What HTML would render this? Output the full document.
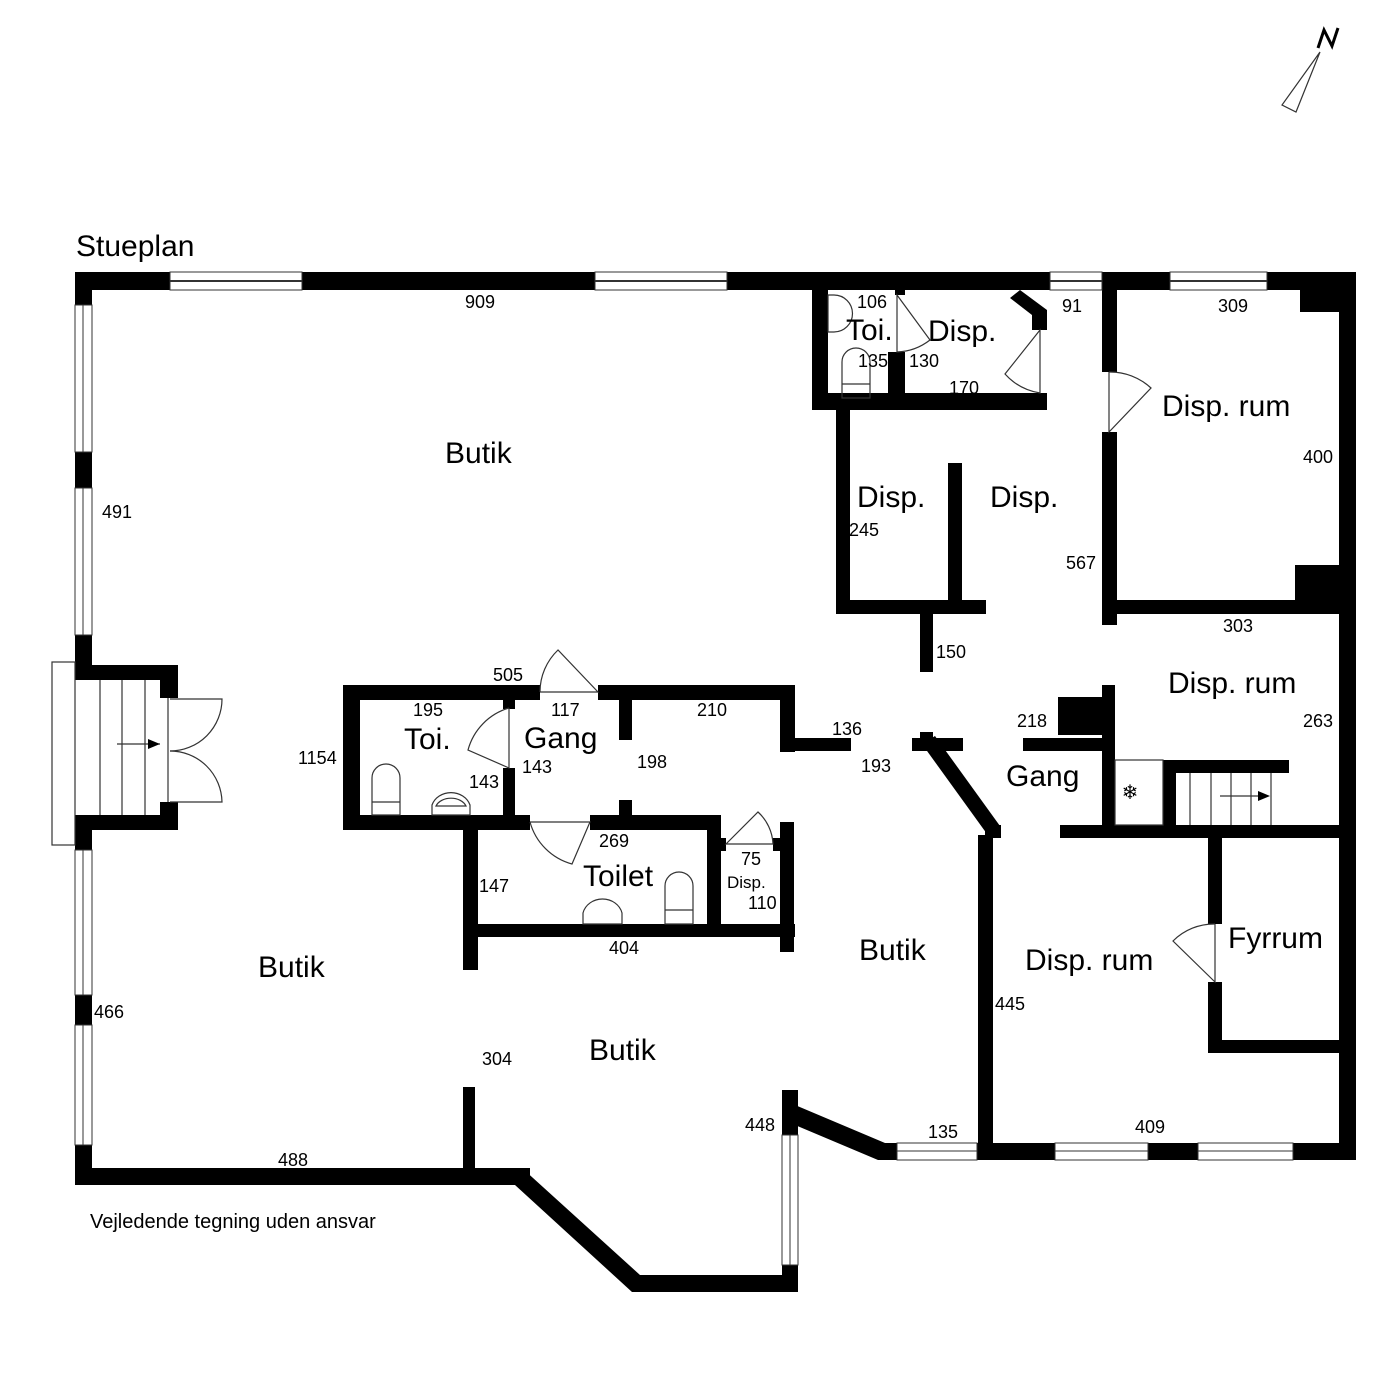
<!DOCTYPE html>
<html><head><meta charset="utf-8"><style>
html,body{margin:0;padding:0;background:#fff}
svg{display:block}
text{font-family:"Liberation Sans",Arial,sans-serif;fill:#000}
.l{font-size:30px}.s{font-size:18px}
</style></head><body>
<svg width="1400" height="1400" viewBox="0 0 1400 1400" xmlns="http://www.w3.org/2000/svg">
<g fill="#000">
<rect x="75" y="272" width="1281" height="18"/>
<rect x="75" y="272" width="17" height="33"/>
<rect x="1339" y="272" width="17" height="888"/>
<rect x="75" y="452" width="17" height="36"/>
<rect x="75" y="635" width="17" height="45"/>
<rect x="75" y="665" width="103" height="15"/>
<rect x="160" y="665" width="18" height="33"/>
<rect x="75" y="815" width="103" height="15"/>
<rect x="160" y="802" width="18" height="28"/>
<rect x="75" y="815" width="17" height="35"/>
<rect x="75" y="995" width="17" height="30"/>
<rect x="75" y="1145" width="17" height="40"/>
<rect x="75" y="1168" width="455" height="17"/>
<polygon points="522,1168 640,1275 798,1275 798,1292 632,1292 515,1185"/>
<rect x="782" y="1265" width="16" height="27"/>
<rect x="782" y="1090" width="16" height="45"/>
<polygon points="795,1105 885,1143 897,1143 897,1160 878,1160 795,1125"/>
<rect x="977" y="1143" width="78" height="17"/>
<rect x="1148" y="1143" width="50" height="17"/>
<rect x="1293" y="1143" width="63" height="17"/>
<rect x="812" y="290" width="16" height="120"/>
<rect x="812" y="393" width="235" height="17"/>
<rect x="888" y="352" width="17" height="41"/>
<rect x="895" y="290" width="10" height="5"/>
<polygon points="1020,290 1047,310 1047,330 1032,330 1032,315 1010,298"/>
<rect x="1032" y="393" width="15" height="17"/>
<rect x="1102" y="290" width="15" height="82"/>
<rect x="1102" y="432" width="15" height="193"/>
<rect x="836" y="410" width="14" height="202"/>
<rect x="836" y="600" width="150" height="14"/>
<rect x="948" y="463" width="14" height="149"/>
<rect x="920" y="612" width="13" height="60"/>
<rect x="1117" y="600" width="222" height="14"/>
<rect x="1300" y="290" width="39" height="22"/>
<rect x="1295" y="565" width="44" height="49"/>
<rect x="1102" y="685" width="13" height="150"/>
<rect x="1058" y="697" width="44" height="38"/>
<rect x="1023" y="738" width="79" height="13"/>
<rect x="1163" y="760" width="13" height="70"/>
<rect x="1163" y="760" width="126" height="13"/>
<rect x="1060" y="825" width="279" height="13"/>
<rect x="1208" y="838" width="14" height="86"/>
<rect x="1208" y="982" width="14" height="71"/>
<rect x="1208" y="1040" width="131" height="13"/>
<rect x="978" y="835" width="15" height="325"/>
<polygon points="922,744 935,736 1000,826 987,834"/>
<rect x="985" y="825" width="16" height="13"/>
<rect x="912" y="738" width="51" height="13"/>
<rect x="920" y="732" width="13" height="8"/>
<rect x="598" y="685" width="197" height="15"/>
<rect x="780" y="685" width="15" height="67"/>
<rect x="780" y="738" width="71" height="13"/>
<rect x="343" y="685" width="197" height="15"/>
<rect x="343" y="685" width="17" height="145"/>
<rect x="343" y="815" width="187" height="15"/>
<rect x="503" y="700" width="12" height="9"/>
<rect x="503" y="768" width="12" height="50"/>
<rect x="619" y="700" width="13" height="40"/>
<rect x="619" y="800" width="13" height="15"/>
<rect x="590" y="815" width="131" height="15"/>
<rect x="463" y="815" width="15" height="155"/>
<rect x="463" y="924" width="332" height="13"/>
<rect x="707" y="815" width="14" height="115"/>
<rect x="717" y="838" width="9" height="13"/>
<rect x="773" y="838" width="9" height="13"/>
<rect x="780" y="822" width="14" height="130"/>
<rect x="463" y="1087" width="12" height="85"/>
</g>
<g fill="#fff" stroke="#333" stroke-width="1">
<rect x="170" y="272" width="132" height="18"/><line x1="170" y1="281" x2="302" y2="281" stroke-width="2"/>
<rect x="595" y="272" width="132" height="18"/><line x1="595" y1="281" x2="727" y2="281" stroke-width="2"/>
<rect x="1050" y="272" width="52" height="18"/><line x1="1050" y1="281" x2="1102" y2="281" stroke-width="2"/>
<rect x="1170" y="272" width="97" height="18"/><line x1="1170" y1="281" x2="1267" y2="281" stroke-width="2"/>
<rect x="75" y="305" width="17" height="147"/><line x1="83" y1="305" x2="83" y2="452"/>
<rect x="75" y="488" width="17" height="147"/><line x1="83" y1="488" x2="83" y2="635"/>
<rect x="75" y="850" width="17" height="145"/><line x1="83" y1="850" x2="83" y2="995"/>
<rect x="75" y="1025" width="17" height="120"/><line x1="83" y1="1025" x2="83" y2="1145"/>
<rect x="782" y="1135" width="16" height="130"/><line x1="790" y1="1135" x2="790" y2="1265"/>
<rect x="897" y="1143" width="80" height="17"/><line x1="897" y1="1151" x2="977" y2="1151"/>
<rect x="1055" y="1143" width="93" height="17"/><line x1="1055" y1="1151" x2="1148" y2="1151"/>
<rect x="1198" y="1143" width="95" height="17"/><line x1="1198" y1="1151" x2="1293" y2="1151"/>
</g>
<g fill="none" stroke="#333" stroke-width="1.2">
<rect x="52" y="662" width="23" height="183"/>
<line x1="100" y1="680" x2="100" y2="815"/><line x1="122" y1="680" x2="122" y2="815"/><line x1="145" y1="680" x2="145" y2="815"/>
<line x1="168" y1="698" x2="168" y2="802"/>
<path d="M170 699 H222 A52 52 0 0 1 170 751"/>
<path d="M170 802 H222 A52 52 0 0 0 170 751"/>
<line x1="117" y1="744" x2="160" y2="744"/>
<path d="M540 692 H598 L558 650 A58 58 0 0 0 540 692"/>
<path d="M509 708 V768 L468 750 A60 60 0 0 1 509 708"/>
<path d="M530 822 H590 V822 L572 864 A60 60 0 0 1 530 822"/>
<path d="M726 844 H773 A46 46 0 0 0 758 812 Z"/>
<path d="M897 295 V352 A57 57 0 0 0 930 340 Z"/>
<path d="M1040 330 V393 A60 60 0 0 1 1005 374 Z"/>
<path d="M1109 372 V432 L1151 388 A60 60 0 0 0 1109 372"/>
<path d="M1215 924 V982 L1173 941 A58 58 0 0 1 1215 924"/>
<rect x="1115" y="760" width="48" height="65"/>
<line x1="1190" y1="773" x2="1190" y2="825"/><line x1="1211" y1="773" x2="1211" y2="825"/><line x1="1231" y1="773" x2="1231" y2="825"/><line x1="1251" y1="773" x2="1251" y2="825"/><line x1="1271" y1="773" x2="1271" y2="825"/>
<line x1="1220" y1="796" x2="1262" y2="796"/>
<path d="M372 815 V778 A14 14 0 0 1 400 778 V815 Z"/><line x1="372" y1="802" x2="400" y2="802"/>
<path d="M432 815 V805 A20 18 0 0 1 470 805 V815 Z"/><path d="M436 806 A16 12 0 0 1 466 806 V806 Z"/>
<path d="M665 924 V886 A14 14 0 0 1 693 886 V924 Z"/><line x1="665" y1="910" x2="693" y2="910"/>
<path d="M583 924 V913 A20 18 0 0 1 622 913 V924 Z"/>
<path d="M842 398 V362 A14 14 0 0 1 870 362 V398 Z"/><line x1="842" y1="384" x2="870" y2="384"/>
<path d="M828 295 H834 A16 16 0 0 1 834 332 H828 Z"/>
<polygon points="1320,52 1282,105 1296,112"/>
</g>
<polygon points="160,744 148,739 148,749" fill="#000"/>
<polygon points="1270,796 1258,791 1258,801" fill="#000"/>
<text x="1130" y="799" text-anchor="middle" style="font-size:20px">❄</text>
<path d="M1318 48 L1324 30 L1332 46 L1338 28" fill="none" stroke="#000" stroke-width="3"/>
<text x="76" y="256" class="l">Stueplan</text>
<text x="90" y="1228" style="font-size:20px">Vejledende tegning uden ansvar</text>
<text x="445" y="463" class="l">Butik</text>
<text x="258" y="977" class="l">Butik</text>
<text x="589" y="1060" class="l">Butik</text>
<text x="859" y="960" class="l">Butik</text>
<text x="404" y="749" class="l">Toi.</text>
<text x="524" y="748" class="l">Gang</text>
<text x="583" y="886" class="l">Toilet</text>
<text x="727" y="888" style="font-size:17px">Disp.</text>
<text x="846" y="340" class="l">Toi.</text>
<text x="928" y="341" class="l">Disp.</text>
<text x="857" y="507" class="l">Disp.</text>
<text x="990" y="507" class="l">Disp.</text>
<text x="1162" y="416" class="l">Disp. rum</text>
<text x="1168" y="693" class="l">Disp. rum</text>
<text x="1006" y="786" class="l">Gang</text>
<text x="1025" y="970" class="l">Disp. rum</text>
<text x="1228" y="948" class="l">Fyrrum</text>
<text x="465" y="308" class="s">909</text>
<text x="102" y="518" class="s">491</text>
<text x="94" y="1018" class="s">466</text>
<text x="278" y="1166" class="s">488</text>
<text x="482" y="1065" class="s">304</text>
<text x="298" y="764" class="s">1154</text>
<text x="493" y="681" class="s">505</text>
<text x="413" y="716" class="s">195</text>
<text x="551" y="716" class="s">117</text>
<text x="697" y="716" class="s">210</text>
<text x="522" y="773" class="s">143</text>
<text x="469" y="788" class="s">143</text>
<text x="637" y="768" class="s">198</text>
<text x="599" y="847" class="s">269</text>
<text x="479" y="892" class="s">147</text>
<text x="609" y="954" class="s">404</text>
<text x="741" y="865" class="s">75</text>
<text x="748" y="909" class="s">110</text>
<text x="832" y="735" class="s">136</text>
<text x="861" y="772" class="s">193</text>
<text x="936" y="658" class="s">150</text>
<text x="1017" y="727" class="s">218</text>
<text x="857" y="308" class="s">106</text>
<text x="858" y="367" class="s">135</text>
<text x="909" y="367" class="s">130</text>
<text x="949" y="394" class="s">170</text>
<text x="1062" y="312" class="s">91</text>
<text x="1218" y="312" class="s">309</text>
<text x="1303" y="463" class="s">400</text>
<text x="849" y="536" class="s">245</text>
<text x="1066" y="569" class="s">567</text>
<text x="1223" y="632" class="s">303</text>
<text x="1303" y="727" class="s">263</text>
<text x="995" y="1010" class="s">445</text>
<text x="1135" y="1133" class="s">409</text>
<text x="928" y="1138" class="s">135</text>
<text x="745" y="1131" class="s">448</text>
</svg>
</body></html>
